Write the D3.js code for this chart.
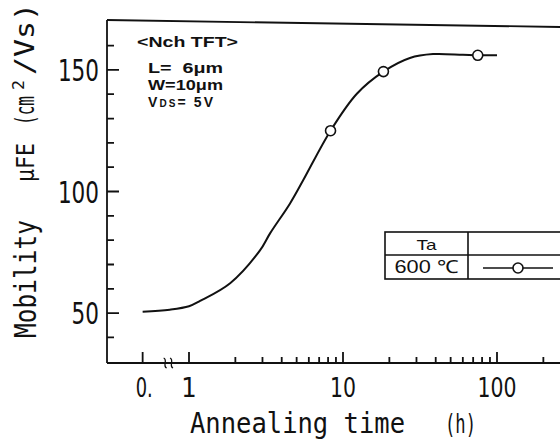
<!DOCTYPE html>
<html>
<head>
<meta charset="utf-8">
<script src="https://cdn.jsdelivr.net/npm/d3@7"></script>
<style>
  html, body { margin: 0; padding: 0; background: #fff; }
  svg { display: block; }
</style>
</head>
<body>
<svg id="chart" width="560" height="441"></svg>
<script>
// ---------------- data ----------------
const curveTime      = [0, 0.75, 1, 1.18, 1.85, 2.89, 3.36, 4.53, 5.5, 8.3, 12.3, 18.3, 27.2, 38.4, 60, 75, 100];
const curveMobility  = [50.6, 51.4, 52.8, 55.0, 62.3, 75.8, 82.8, 95.1, 104.5, 125, 140.2, 149.3, 154.9, 156.5, 156.2, 156, 156];
const markerTime     = [8.3, 18.3, 75];
const markerMobility = [125, 149.3, 156];
const yMajorTicks    = [50, 100, 150];
const yMinorTicks    = [40, 60, 70, 80, 90, 110, 120, 130, 140, 160];
const xMajorTicks    = [0, 1, 10, 100];
const xTickLabels    = ["0.", "1", "10", "100"];
const xMinorTicks    = [2, 3, 4, 5, 6, 7, 8, 9, 20, 30, 40, 50, 60, 70, 80, 90, 200];
const legendHeader   = ["Ta", ""];
const legendRow      = ["600 ℃"];
const ZERO_PROXY = 0.5;   // where "0." sits on the broken log axis

// ---------------- layout ----------------
const P = { left: 107, right: 560, top: 21, bottom: 363 };
const svg = d3.select("#chart");
const ink = "#111";

const x = d3.scaleLog().domain([1, 100]).range([189, 497]);
x.domain([x.invert(P.left), x.invert(P.right)]).range([P.left, P.right]);
const xp = t => x(t === 0 ? ZERO_PROXY : t);
const y = d3.scaleLinear().domain([29.5, 170.1]).range([P.bottom, P.top]);

const tickFont = "'Liberation Sans Narrow','DejaVu Sans Condensed','Liberation Sans',sans-serif";
const titleFont = "'DejaVu Sans Mono','Liberation Mono',monospace";

// frame lines
svg.append("line").attr("x1", P.left).attr("y1", P.bottom).attr("x2", P.left).attr("y2", P.top - 1)
  .attr("stroke", ink).attr("stroke-width", 1.8);
svg.append("line").attr("x1", P.left).attr("y1", P.bottom).attr("x2", P.right).attr("y2", P.bottom)
  .attr("stroke", ink).attr("stroke-width", 1.8);
svg.append("line").attr("x1", P.left).attr("y1", P.top - 1).attr("x2", P.right).attr("y2", P.top + 6)
  .attr("stroke", ink).attr("stroke-width", 1.8);

// ticks (inward)
const yTickPath = yMajorTicks.map(v => `M${P.left},${y(v)}h12`).join("")
  + yMinorTicks.map(v => `M${P.left},${y(v)}h7`).join("");
const xTickPath = xMajorTicks.map(t => `M${xp(t)},${P.bottom}v-11`).join("")
  + xMinorTicks.map(t => `M${x(t)},${P.bottom}v-6`).join("");
svg.append("path").attr("d", yTickPath + xTickPath)
  .attr("fill", "none").attr("stroke", ink).attr("stroke-width", 1.8);

svg.selectAll("text.yl").data(yMajorTicks).join("text").attr("class", "yl")
  .attr("x", P.left - 8).attr("y", d => y(d) + 11).attr("text-anchor", "end")
  .attr("font-family", tickFont).attr("font-size", 31).attr("fill", ink)
  .attr("textLength", d => String(d).length * 13.7).attr("lengthAdjust", "spacingAndGlyphs")
  .text(d => d);

svg.selectAll("text.xl").data(xMajorTicks).join("text").attr("class", "xl")
  .attr("x", d => xp(d)).attr("y", P.bottom + 34)
  .attr("text-anchor", (d, i) => xTickLabels[i] === "0." ? "start" : "middle")
  .attr("dx", (d, i) => xTickLabels[i] === "0." ? -7 : 0)
  .attr("font-family", tickFont).attr("font-size", 27).attr("fill", ink)
  .each(function (d, i) {
    const s = xTickLabels[i];
    const t = d3.select(this).text(s);
    if (s.length > 1) t.attr("textLength", s === "0." ? 17 : s.length * 13).attr("lengthAdjust", "spacingAndGlyphs");
  });

// axis break marks
[0.7, 0.77].forEach(t => {
  const cx = x(t), cy = P.bottom;
  svg.append("path")
    .attr("d", `M${cx - 1.5},${cy - 5} C${cx + 3},${cy - 3} ${cx - 3},${cy + 3} ${cx + 1.5},${cy + 5}`)
    .attr("fill", "none").attr("stroke", ink).attr("stroke-width", 1.3);
});

// curve
const pts = curveTime.map((t, i) => [xp(t), y(curveMobility[i])]);
svg.append("path").attr("d", d3.line().curve(d3.curveCatmullRom.alpha(0.5))(pts))
  .attr("fill", "none").attr("stroke", ink).attr("stroke-width", 2);

// markers
svg.selectAll("circle.m").data(markerTime).join("circle").attr("class", "m")
  .attr("cx", d => x(d)).attr("cy", (d, i) => y(markerMobility[i])).attr("r", 5)
  .attr("fill", "#fff").attr("stroke", ink).attr("stroke-width", 1.6);

// y title
function rotText(str, xBase, yStart, len, size) {
  return svg.append("text")
    .attr("transform", `translate(${xBase},${yStart}) rotate(-90)`)
    .attr("font-family", titleFont).attr("font-size", size).attr("fill", ink)
    .attr("textLength", len).attr("lengthAdjust", "spacingAndGlyphs")
    .text(str);
}
rotText("Mobility", 36, 338, 118, 31);
rotText("μFE", 34, 182, 39, 24);
rotText("(cm", 34, 125, 29, 26);
rotText("2", 24, 90, 10, 15);
rotText("/Vs)", 34, 75, 72, 26);

// x title
svg.append("text").attr("x", 190).attr("y", 433)
  .attr("font-family", titleFont).attr("font-size", 28).attr("fill", ink)
  .attr("textLength", 215).attr("lengthAdjust", "spacingAndGlyphs").text("Annealing time");
svg.append("text").attr("x", 445).attr("y", 433)
  .attr("font-family", titleFont).attr("font-size", 26).attr("fill", ink)
  .attr("textLength", 31).attr("lengthAdjust", "spacingAndGlyphs").text("(h)");

// annotation
const annFont = "'Liberation Sans',Arial,sans-serif";
svg.append("text").attr("x", 137).attr("y", 47).attr("font-family", annFont).attr("font-size", 14)
  .attr("font-weight", "bold").attr("fill", ink)
  .attr("textLength", 101).attr("lengthAdjust", "spacingAndGlyphs").text("<Nch TFT>");
svg.append("text").attr("x", 148).attr("y", 73).attr("font-family", annFont).attr("font-size", 14)
  .attr("font-weight", "bold").attr("fill", ink).attr("xml:space", "preserve")
  .attr("textLength", 75).attr("lengthAdjust", "spacingAndGlyphs").text("L=  6μm");
svg.append("text").attr("x", 148).attr("y", 90).attr("font-family", annFont).attr("font-size", 14)
  .attr("font-weight", "bold").attr("fill", ink)
  .attr("textLength", 75).attr("lengthAdjust", "spacingAndGlyphs").text("W=10μm");
const vds = svg.append("text").attr("x", 148).attr("y", 107).attr("font-family", annFont)
  .attr("font-size", 14).attr("font-weight", "bold").attr("fill", ink)
  .attr("textLength", 65).attr("lengthAdjust", "spacing");
vds.append("tspan").text("V");
vds.append("tspan").attr("font-size", 10).text("DS");
vds.append("tspan").text("= 5V");

// legend table
const L = { x0: 385, xm: 468, x1: 566, y0: 232, ym: 255, y1: 279 };
const lg = svg.append("g").attr("stroke", ink).attr("stroke-width", 1.6).attr("fill", "none");
lg.append("rect").attr("x", L.x0).attr("y", L.y0).attr("width", L.x1 - L.x0).attr("height", L.y1 - L.y0);
lg.append("line").attr("x1", L.x0).attr("x2", L.x1).attr("y1", L.ym).attr("y2", L.ym);
lg.append("line").attr("x1", L.xm).attr("x2", L.xm).attr("y1", L.y0).attr("y2", L.y1);
svg.append("text").attr("x", (L.x0 + L.xm) / 2).attr("y", 250).attr("text-anchor", "middle")
  .attr("font-family", annFont).attr("font-size", 15).attr("fill", ink)
  .attr("textLength", 20).attr("lengthAdjust", "spacingAndGlyphs").text(legendHeader[0]);
svg.append("text").attr("x", (L.x0 + L.xm) / 2).attr("y", 273).attr("text-anchor", "middle")
  .attr("font-family", annFont).attr("font-size", 18).attr("fill", ink)
  .attr("textLength", 64).attr("lengthAdjust", "spacingAndGlyphs").text(legendRow[0]);
svg.append("line").attr("x1", 483).attr("x2", 553).attr("y1", 268).attr("y2", 268)
  .attr("stroke", ink).attr("stroke-width", 1.6);
svg.append("circle").attr("cx", 518).attr("cy", 268).attr("r", 5)
  .attr("fill", "#fff").attr("stroke", ink).attr("stroke-width", 1.6);
</script>
</body>
</html>
